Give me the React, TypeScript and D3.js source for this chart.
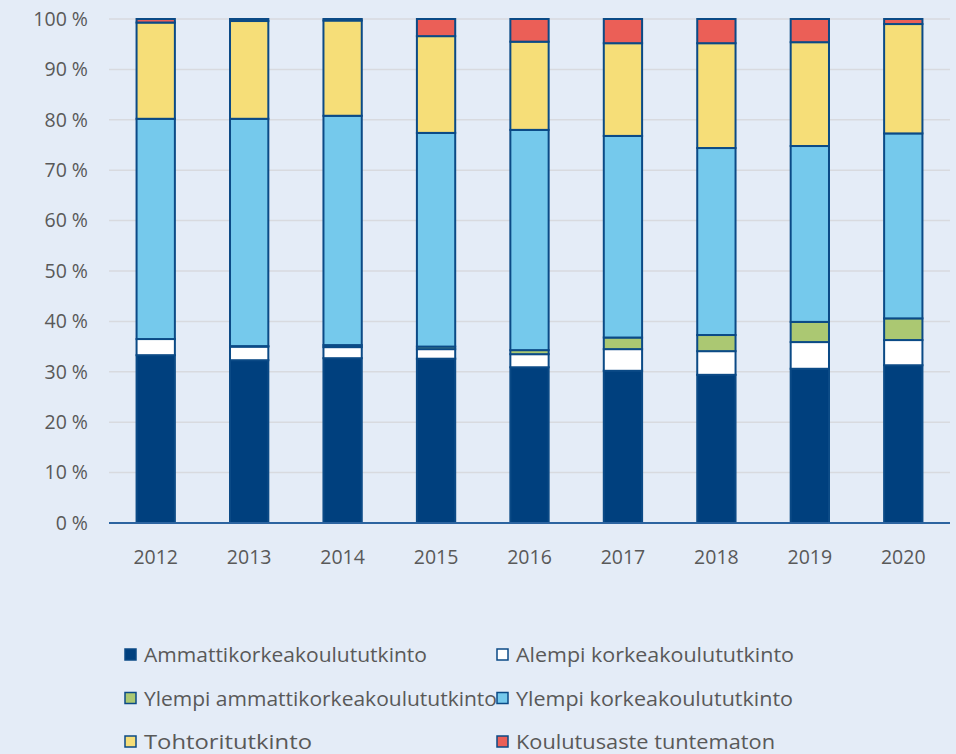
import React, { useEffect, useRef } from 'react';
import * as d3 from 'd3';

const years = ['2012', '2013', '2014', '2015', '2016', '2017', '2018', '2019', '2020'];
const seriesNames = [
  'Ammattikorkeakoulututkinto',
  'Alempi korkeakoulututkinto',
  'Ylempi ammattikorkeakoulututkinto',
  'Ylempi korkeakoulututkinto',
  'Tohtoritutkinto',
  'Koulutusaste tuntematon',
];
const amk = [33.3, 32.3, 32.7, 32.6, 30.9, 30.2, 29.4, 30.6, 31.3];
const alempi = [3.2, 2.7, 2.2, 1.9, 2.6, 4.3, 4.7, 5.3, 5.0];
const ylempiAmk = [0, 0.1, 0.4, 0.5, 0.8, 2.3, 3.2, 4.0, 4.3];
const ylempi = [43.7, 45.1, 45.5, 42.4, 43.7, 40.0, 37.1, 34.9, 36.7];
const tohtori = [19.1, 19.4, 18.9, 19.2, 17.5, 18.4, 20.8, 20.6, 21.7];
const tuntematon = [0.7, 0.4, 0.3, 3.4, 4.5, 4.8, 4.8, 4.6, 1.0];
const yTicks = [0, 10, 20, 30, 40, 50, 60, 70, 80, 90, 100];

const colors = ['#00407E', '#FFFFFF', '#ABC872', '#75C9EC', '#F6DE78', '#EB5F57'];

const App: React.FC = () => {
  const svgRef = useRef<SVGSVGElement>(null);

  useEffect(() => {
    if (!svgRef.current) return;
    const width = 956;
    const height = 754;
    const margin = { top: 19, right: 6, bottom: 231, left: 109 };
    const font = 'Open Sans, sans-serif';

    const svg = d3.select(svgRef.current);
    svg.selectAll('*').remove();

    svg.append('rect').attr('width', width).attr('height', height).attr('fill', '#E4ECF7');

    const x = d3.scaleBand<string>()
      .domain(years)
      .range([margin.left, width - margin.right])
      .paddingInner(0.59)
      .paddingOuter(0.295);
    const y = d3.scaleLinear().domain([0, 100]).range([height - margin.bottom, margin.top]);

    // gridlines
    svg.append('g')
      .selectAll('line')
      .data(yTicks.slice(1))
      .join('line')
      .attr('x1', margin.left)
      .attr('x2', width - margin.right)
      .attr('y1', d => y(d))
      .attr('y2', d => y(d))
      .attr('stroke', '#D8DADF')
      .attr('stroke-width', 1.5);

    svg.append('g')
      .selectAll('text')
      .data(yTicks)
      .join('text')
      .attr('x', 88)
      .attr('y', d => y(d))
      .attr('dy', '0.35em')
      .attr('text-anchor', 'end')
      .attr('fill', '#595959')
      .attr('font-size', 19.5)
      .attr('font-family', font)
      .text(d => `${d} %`);

    const rows = years.map((yr, i) => ({
      year: yr,
      s0: amk[i], s1: alempi[i], s2: ylempiAmk[i], s3: ylempi[i], s4: tohtori[i], s5: tuntematon[i],
    }));
    const keys = ['s0', 's1', 's2', 's3', 's4', 's5'];
    const stacked = d3.stack<any>().keys(keys)(rows);

    const layers = svg.append('g')
      .selectAll('g')
      .data(stacked)
      .join('g')
      .attr('fill', (d, i) => colors[i]);

    layers.selectAll('rect')
      .data(d => d.filter(v => v[1] - v[0] > 0.05))
      .join('rect')
      .attr('x', d => x(d.data.year)!)
      .attr('width', x.bandwidth())
      .attr('y', d => y(d[1]))
      .attr('height', d => y(d[0]) - y(d[1]))
      .attr('stroke', '#0B4A86')
      .attr('stroke-width', 2);

    // axis line
    svg.append('line')
      .attr('x1', margin.left)
      .attr('x2', width - margin.right)
      .attr('y1', y(0))
      .attr('y2', y(0))
      .attr('stroke', '#2C64A0')
      .attr('stroke-width', 2);

    svg.append('g')
      .selectAll('text')
      .data(years)
      .join('text')
      .attr('x', d => x(d)! + x.bandwidth() / 2)
      .attr('y', 564)
      .attr('text-anchor', 'middle')
      .attr('fill', '#595959')
      .attr('font-size', 19.5)
      .attr('font-family', font)
      .text(d => d);

    // legend
    const legend = svg.append('g')
      .selectAll('g')
      .data(seriesNames)
      .join('g')
      .attr('transform', (d, i) => `translate(${i % 2 === 0 ? 125 : 497},${655 + Math.floor(i / 2) * 43.5})`);

    legend.append('rect')
      .attr('x', 0)
      .attr('y', -6)
      .attr('width', 11)
      .attr('height', 11)
      .attr('fill', (d, i) => colors[i])
      .attr('stroke', '#0B4A86')
      .attr('stroke-width', 1.5);

    legend.append('text')
      .attr('x', 19)
      .attr('y', 0)
      .attr('dy', '0.35em')
      .attr('fill', '#595959')
      .attr('font-size', 20.5)
      .attr('font-family', font)
      .attr('textLength', (d, i) => [283, 278, 353, 277, 168, 259][i])
      .attr('lengthAdjust', 'spacingAndGlyphs')
      .text(d => d);
  }, []);

  return (
    <div style={{ position: 'absolute', left: 0, top: 0, width: 956, height: 754 }}>
      <svg ref={svgRef} width={956} height={754} style={{ display: 'block' }} />
    </div>
  );
};

export default App;
